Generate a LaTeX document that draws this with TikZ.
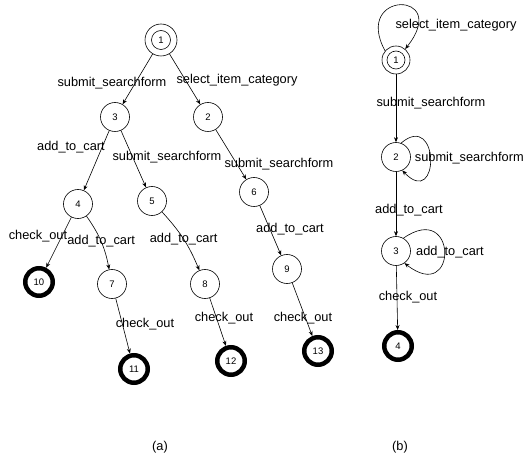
\documentclass[tikz,border=0pt]{standalone}
\usepackage{fontspec}
\setmainfont{Liberation Sans}
\usetikzlibrary{arrows.meta}
\begin{document}
\begin{tikzpicture}[x=1pt,y=-1pt,
  st/.style={circle,draw,line width=0.6pt,minimum size=29pt,inner sep=0pt,font=\fontsize{9.5}{10}\selectfont},
  startst/.style={st,minimum size=32pt},
  fin/.style={circle,draw,line width=4.5pt,minimum size=27.5pt,inner sep=0pt,font=\fontsize{9.5}{10}\selectfont},
  edge/.style={line width=0.6pt,-{Stealth[length=5pt,width=4pt]}},
  lbl/.style={font=\fontsize{12.8}{14}\selectfont,inner sep=0pt}]
\useasboundingbox (0,0) rectangle (525,457);
% (a)
\node[startst] (a1) at (161,40) {1};
\draw[line width=0.6pt] (a1.center) circle (9.5);
\node[st] (a3) at (115,117) {3};
\node[st] (a2) at (208,117) {2};
\node[st] (a4) at (78,204) {4};
\node[st] (a5) at (152,201) {5};
\node[st] (a6) at (254,192) {6};
\node[fin] (a10) at (39,282) {10};
\node[st] (a7) at (112,284) {7};
\node[st] (a8) at (205,284) {8};
\node[st] (a9) at (287,269) {9};
\node[fin] (a11) at (134,369) {11};
\node[fin] (a12) at (231,361) {12};
\node[fin] (a13) at (318,351) {13};
\draw[edge] (a1) -- (a3) node[lbl] at (112,83) {submit\_searchform};
\draw[edge] (a1) -- (a2) node[lbl] at (237,80) {select\_item\_category};
\draw[edge] (a3) -- (a4) node[lbl] at (71,147) {add\_to\_cart};
\draw[edge] (a3) -- (a5) node[lbl] at (167,157) {submit\_searchform};
\draw[edge] (a2) -- (a6) node[lbl] at (279,164) {submit\_searchform};
\draw[edge] (a4) -- (a10) node[lbl] at (38,236) {check\_out};
\draw[edge] (a4) to[bend left=12] node[lbl,at={(109,241)}] {add\_to\_cart} (a7);
\draw[edge] (a5) to[bend left=10] node[lbl,at={(191,229)}] {add\_to\_cart} (a8);
\draw[edge] (a6) -- (a9) node[lbl] at (290,229) {add\_to\_cart};
\draw[edge] (a7) -- (a11) node[lbl] at (145,324) {check\_out};
\draw[edge] (a8) -- (a12) node[lbl] at (224,318) {check\_out};
\draw[edge] (a9) -- (a13) node[lbl] at (303,318) {check\_out};
\node[lbl] (capa) at (160,447) {(a)};
% (b)
\node[st,minimum size=28pt] (b1) at (396,60) {1};
\draw[line width=0.6pt] (b1.center) circle (9);
\node[st] (b2) at (396,157) {2};
\node[st] (b3) at (396,251) {3};
\node[fin] (b4) at (398,346) {4};
\draw[edge] (b1.140) .. controls (352,-10) and (452,-10) .. (b1.50) node[lbl] at (456,25) {select\_item\_category};
\draw[edge] (b1) -- (b2) node[lbl] at (431,103) {submit\_searchform};
\draw[edge] (b2.70) .. controls (440,110) and (440,210) .. (b2.-65) node[lbl,anchor=east] at (524,158) {submit\_searchform};
\draw[edge] (b2) -- (b3) node[lbl] at (409,210) {add\_to\_cart};
\draw[edge] (b3.60) .. controls (458,200) and (458,305) .. (b3.-55) node[lbl] at (450,252) {add\_to\_cart};
\draw[edge] (b3) -- (b4) node[lbl] at (408,297) {check\_out};
\node[lbl] (capb) at (400,447) {(b)};
\end{tikzpicture}
\end{document}
